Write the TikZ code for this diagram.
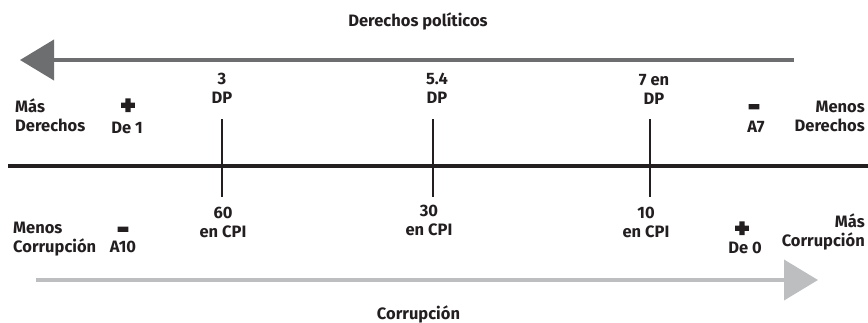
\documentclass[tikz,border=0pt]{standalone}
\usepackage{fontspec}
\setmainfont{Fira Sans}
\newfontfamily\signfont{Fira Sans}[FakeBold=6]
\usetikzlibrary{arrows.meta}
\definecolor{rightsgray}{HTML}{6D6E70}
\definecolor{corrgray}{HTML}{BCBEC0}
\definecolor{axisblack}{HTML}{231F20}

\begin{document}
\begin{tikzpicture}[x=1pt, y=-1pt,
		every node/.style={inner sep=0pt, text=axisblack, font=\bfseries\fontsize{16.5}{19}\selectfont},
		lbl/.style={align=center, anchor=north},
		sign/.style={anchor=base, font=\signfont\bfseries\fontsize{28}{28}\selectfont},
		tick/.style={axisblack, line width=2pt}]
		\useasboundingbox (0,0) rectangle (868,322);
		% flechas
		\coordinate (dpstart) at (794,60);
		\coordinate (dpend) at (20,60);
		\coordinate (cpistart) at (36,280);
		\coordinate (cpiend) at (818,280);
		\draw[rightsgray, line width=4pt, -{Triangle[length=34pt,width=40pt]}] (dpstart) -- (dpend);
		\draw[corrgray, line width=4pt, -{Triangle[length=34pt,width=40pt]}] (cpistart) -- (cpiend);
		% eje
		\draw[axisblack, line width=4pt] (8,166) -- (868,166);
		\draw[tick] (222,119) -- (222,197);
		\draw[tick] (433,119) -- (433,197);
		\draw[tick] (650,119) -- (650,197);
		% textos
		\node[anchor=base] (title) at (418,26) {Derechos políticos};
		\node[anchor=base] (corr) at (418.5,319) {Corrupción};
		\node[lbl] (dp3) at (222,73) {3\\DP};
		\node[lbl] (dp54) at (437,73) {5.4\\DP};
		\node[lbl] (dp7) at (654,74) {7 en\\DP};
		\node[lbl] (cpi60) at (223,207) {60\\en CPI};
		\node[lbl] (cpi30) at (429,205) {30\\en CPI};
		\node[lbl] (cpi10) at (646,207) {10\\en CPI};
		\node[align=left, anchor=north west] (masder) at (15,99) {Más\\Derechos};
		\node[align=right, anchor=north east] (menosder) at (865,101) {Menos\\Derechos};
		\node[align=left, anchor=north west] (menoscorr) at (13,222) {Menos\\Corrupción};
		\node[align=right, anchor=north east] (mascorr) at (865,214) {Más\\Corrupción};
		\node[sign] (plusder) at (128,114.5) {+};
		\node[anchor=base] (de1) at (127,133) {De 1};
		\node[sign] (minusder) at (754,115.5) {-};
		\node[anchor=base] (a7) at (756,132) {A7};
		\node[sign] (minuscorr) at (123,238) {-};
		\node[anchor=base] (a10) at (123,252.5) {A10};
		\node[sign] (pluscorr) at (742,237.5) {+};
		\node[anchor=base] (de0) at (745,253) {De 0};
	\end{tikzpicture}
\end{document}
